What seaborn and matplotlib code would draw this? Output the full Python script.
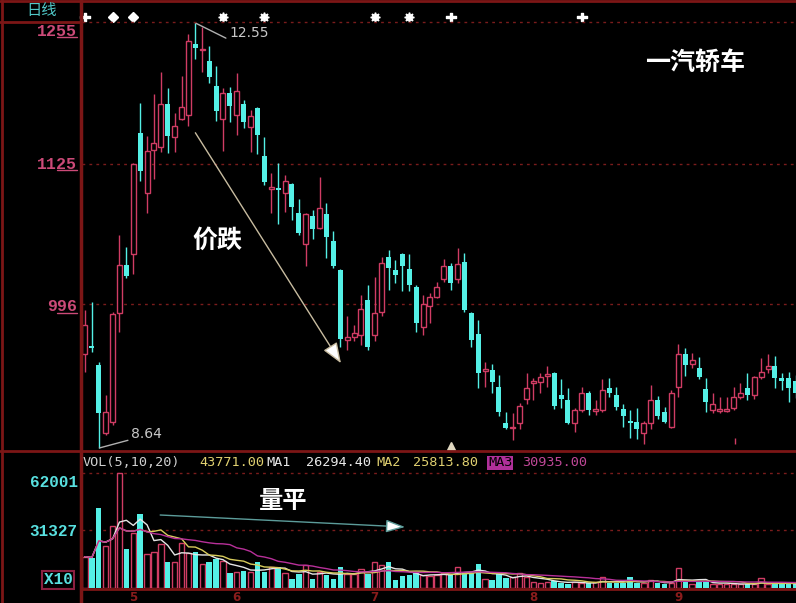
import matplotlib
matplotlib.use('Agg')
import matplotlib.pyplot as plt
from matplotlib.lines import Line2D
import numpy as np
import pandas as pd
import seaborn as sns

# daily candles (price in yuan)
opens = [9.50, 9.58, 9.40, 8.78, 8.88, 9.88, 10.32, 10.42, 11.54, 10.99,
         11.38, 11.41, 11.80, 11.50, 11.67, 11.70, 12.36, 12.30, 12.20, 11.97,
         11.67, 11.91, 11.70, 11.80, 11.59, 11.77, 11.33, 11.02, 11.03, 10.99,
         11.07, 10.80, 10.52, 10.77, 10.66, 10.79, 10.54, 10.28, 9.63, 9.66,
         9.68, 10.00, 9.68, 9.89, 10.40, 10.28, 10.42, 10.29, 10.12, 9.75,
         9.95, 10.03, 10.19, 10.31, 10.19, 10.35, 9.88, 9.69, 9.35, 9.36,
         9.20, 8.87, 8.82, 8.87, 9.09, 9.24, 9.25, 9.30, 9.33, 9.13,
         9.08, 8.87, 8.99, 9.15, 8.98, 8.99, 9.19, 9.13, 9.00, 8.89,
         8.88, 8.78, 8.87, 9.08, 8.97, 8.83, 9.20, 9.50, 9.41, 9.38,
         9.18, 8.99, 8.98, 8.98, 9.01, 9.11, 9.19, 9.13, 9.29, 9.37,
         9.39, 9.28, 9.28, 9.26]
highs = [9.91, 9.98, 9.43, 9.13, 9.89, 10.60, 10.49, 11.26, 11.81, 11.51,
         11.90, 12.10, 11.95, 11.72, 12.06, 12.45, 12.55, 12.51, 12.34, 12.15,
         11.95, 11.96, 12.09, 11.84, 11.75, 11.78, 11.50, 11.17, 11.26, 11.15,
         11.08, 10.93, 10.80, 10.83, 11.13, 10.89, 10.64, 10.29, 9.85, 9.77,
         10.05, 10.14, 10.21, 10.40, 10.46, 10.37, 10.43, 10.42, 10.14, 10.05,
         10.07, 10.17, 10.38, 10.34, 10.48, 10.43, 9.89, 9.82, 9.43, 9.41,
         9.31, 8.97, 8.96, 9.05, 9.33, 9.28, 9.33, 9.39, 9.34, 9.27,
         9.19, 9.01, 9.20, 9.16, 9.08, 9.27, 9.28, 9.20, 9.04, 8.99,
         9.01, 8.89, 9.22, 9.12, 9.02, 9.17, 9.60, 9.56, 9.51, 9.48,
         9.28, 9.15, 9.11, 9.11, 9.20, 9.24, 9.33, 9.30, 9.47, 9.50,
         9.49, 9.33, 9.34, 9.31]
lows = [9.34, 9.52, 8.64, 8.76, 8.85, 9.71, 10.20, 10.24, 11.10, 10.80,
        11.11, 11.36, 11.35, 11.36, 11.66, 11.60, 12.22, 12.10, 12.00, 11.65,
        11.37, 11.64, 11.52, 11.58, 11.36, 11.34, 11.06, 10.80, 10.70, 10.81,
        10.74, 10.60, 10.31, 10.56, 10.65, 10.39, 10.30, 9.57, 9.54, 9.62,
        9.59, 9.54, 9.62, 9.85, 10.09, 10.16, 10.08, 10.08, 9.71, 9.68,
        9.79, 10.02, 10.17, 10.09, 10.16, 9.89, 9.57, 9.19, 9.20, 9.15,
        8.93, 8.81, 8.71, 8.81, 9.04, 9.08, 9.15, 9.20, 9.00, 9.01,
        8.86, 8.79, 8.97, 8.94, 8.94, 8.97, 9.11, 8.99, 8.83, 8.73,
        8.72, 8.68, 8.81, 8.91, 8.87, 8.82, 9.11, 9.30, 9.38, 9.27,
        8.97, 8.96, 8.96, 8.97, 8.99, 9.09, 9.08, 9.09, 9.27, 9.33,
        9.19, 9.17, 9.06, 9.10]
closes = [9.77, 9.56, 8.96, 8.97, 9.87, 10.32, 10.22, 11.25, 11.19, 11.37,
          11.45, 11.80, 11.51, 11.60, 11.78, 12.38, 12.32, 12.30, 12.05, 11.74,
          11.91, 11.79, 11.92, 11.64, 11.69, 11.52, 11.09, 11.04, 11.01, 11.10,
          10.86, 10.62, 10.79, 10.65, 10.85, 10.58, 10.31, 9.64, 9.66, 9.70,
          9.92, 9.57, 9.88, 10.34, 10.30, 10.23, 10.31, 10.14, 9.79, 9.96,
          10.03, 10.12, 10.31, 10.16, 10.33, 9.91, 9.63, 9.33, 9.37, 9.25,
          8.97, 8.82, 8.82, 9.03, 9.19, 9.26, 9.29, 9.32, 9.03, 9.09,
          8.87, 8.99, 9.15, 8.99, 9.00, 9.17, 9.15, 9.02, 8.93, 8.87,
          8.81, 8.87, 9.08, 8.93, 8.88, 9.15, 9.50, 9.40, 9.45, 9.29,
          9.06, 9.04, 9.00, 9.00, 9.11, 9.15, 9.13, 9.29, 9.34, 9.39,
          9.28, 9.26, 9.19, 9.15]
volumes = [16870, 16000, 43300, 22800, 33600, 62001, 20850, 29500, 39700, 18150,
           19600, 23550, 13850, 13850, 24100, 18700, 19600, 12750, 13850, 15630,
           14550, 7900, 8450, 9160, 8450, 13850, 8800, 11500, 11500, 7900,
           4850, 7370, 12400, 4850, 8800, 7000, 4850, 11500, 7370, 7370,
           10250, 7370, 13850, 12400, 13850, 4300, 6470, 7000, 8250, 7000,
           6470, 7000, 7900, 7000, 11150, 8800, 8250, 12940, 4670, 4310,
           7550, 5210, 5750, 8250, 5750, 3400, 2870, 3400, 3950, 2870,
           2160, 3400, 2500, 2500, 3000, 6100, 2870, 2870, 2870, 6100,
           2500, 2500, 4300, 2870, 2160, 2870, 10600, 3400, 2160, 3400,
           3400, 2160, 2160, 2160, 2160, 2160, 2160, 2160, 5200, 2160,
           2160, 2160, 2160, 2500]

month_idx = [7, 22, 42, 65, 86]
month_labels = ['5', '6', '7', '8', '9']

price_ticks = [12.55, 11.25, 9.96]
price_tick_labels = ['1255', '1125', '996']
vol_ticks = [62001, 31327]
vol_tick_labels = ['62001', '31327']

diamond_idx = [4, 7]
star_idx = [20, 26, 42, 47]
div_idx = [0, 53, 72]

sns.set_style('dark', {'axes.facecolor': 'black', 'figure.facecolor': 'black', 'axes.grid': False})
plt.rcParams['font.family'] = ['Noto Sans CJK SC', 'DejaVu Sans']

RED = '#d03c64'
CYAN = '#54f0e6'
FRAME = '#7c1616'
GRID = '#7a1c1c'
PINK = '#cc4a78'

W, H = 796, 603


def fx(px):
    return px / W


def fy(py):
    return 1 - py / H


fig = plt.figure(figsize=(W / 100, H / 100), dpi=100)
fig.patch.set_facecolor('black')
ax = fig.add_axes([fx(82), fy(451), fx(796) - fx(82), fy(22) - fy(451)])
axv = fig.add_axes([fx(82), fy(588), fx(796) - fx(82), fy(452) - fy(588)])

df = pd.DataFrame(dict(open=opens, high=highs, low=lows, close=closes, vol=volumes))
df['i'] = np.arange(len(df))
up = (df['close'] >= df['open']).values
colors = np.where(up, RED, CYAN)

# candles
ax.vlines(df['i'], df['low'], df['high'], colors=colors, lw=1, zorder=1)
body_h = (df['close'] - df['open']).abs().clip(lower=0.012)
body_b = df[['open', 'close']].min(axis=1)
ax.bar(df['i'][up], body_h[up], bottom=body_b[up], width=0.72,
       facecolor='black', edgecolor=RED, lw=1, zorder=2)
ax.bar(df['i'][~up], body_h[~up], bottom=body_b[~up], width=0.72,
       color=CYAN, lw=0, zorder=2)

# volume bars + moving averages
axv.bar(df['i'][up], df['vol'][up], width=0.78, facecolor='black', edgecolor=RED, lw=1)
axv.bar(df['i'][~up], df['vol'][~up], width=0.78, color=CYAN, lw=0)
for n, c in [(5, '#e6e6e6'), (10, '#d8cc5c'), (20, '#b8309a')]:
    ma = df['vol'].rolling(n, min_periods=1).mean()
    sns.lineplot(x=df['i'], y=ma, ax=axv, color=c, lw=1)

for a in (ax, axv):
    a.set_facecolor('black')
    a.set_xlim(-0.43, 103.05)
    a.set_yticks([])
    a.set_xlabel('')
    a.set_ylabel('')
    for s in a.spines.values():
        s.set_visible(False)
ax.set_xticks([])
ax.set_ylim(8.612, 12.559)
axv.set_ylim(0, 73318)

dots = (0, (2, 3))
for v in price_ticks[1:]:
    ax.axhline(v, color=GRID, ls=dots, lw=1, zorder=0)
for v in vol_ticks:
    axv.axhline(v, color=GRID, ls=dots, lw=1, zorder=0)

axv.set_xticks(month_idx)
axv.set_xticklabels(month_labels, fontsize=8.5, fontweight='bold', family='DejaVu Sans')
axv.tick_params(axis='x', colors='#8a1c1c', length=2, width=1, pad=0)

# axis labels on the left column
for v, t, d in zip(price_ticks, price_tick_labels, [-6, 0, -1.5]):
    ax.annotate(t, xy=(0, v), xycoords=('axes fraction', 'data'), xytext=(-3.6, d),
                textcoords='offset points', ha='right', va='center', color=PINK,
                fontsize=12, fontweight='bold', family='Liberation Mono')
for yy in [37, 170, 313]:
    fig.add_artist(Line2D([fx(57), fx(77)], [fy(yy), fy(yy)], color=PINK, lw=1))
for v, t, d in zip(vol_ticks, vol_tick_labels, [-7, -1.5]):
    axv.annotate(t, xy=(0, v), xycoords=('axes fraction', 'data'), xytext=(-3, d),
                 textcoords='offset points', ha='right', va='center', color='#58e0e0',
                 fontsize=11.5, fontweight='bold', family='Liberation Mono')
fig.text(fx(58), fy(580), 'X10', color='#58e0e0', fontsize=11.5, fontweight='bold',
         family='Liberation Mono', ha='center', va='center',
         bbox=dict(boxstyle='square,pad=0.12', fc='black', ec='#8a2040', lw=1.5))
fig.text(fx(42), fy(10), '日线', color='#50c8c8', fontsize=11, ha='center', va='center')

# frame lines
frame = [((2, 0), (2, 603), 2), ((81, 0), (81, 603), 2.5), ((0, 1), (796, 1), 2),
         ((0, 22), (81, 22), 2), ((0, 450.5), (796, 450.5), 2), ((81, 588.5), (796, 588.5), 2)]
for (x0, y0), (x1, y1), w in frame:
    fig.add_artist(Line2D([fx(x0), fx(x1)], [fy(y0), fy(y1)], color=FRAME, lw=w))
fig.add_artist(Line2D([fx(82), fx(796)], [fy(22), fy(22)], color=GRID, lw=1, ls=dots))

# signal markers in the top strip
ax.plot(diamond_idx, [12.605] * len(diamond_idx), 'D', color='white', ms=5, clip_on=False)
ax.plot(star_idx, [12.605] * len(star_idx), marker=(8, 1, 0), ls='none', color='white',
        ms=7, clip_on=False)
ax.plot(div_idx, [12.605] * len(div_idx), marker='$\\div$', ls='none', color='white',
        ms=7, clip_on=False)
ax.plot([53], [8.66], '^', color='#e0d8c0', ms=6)
ax.plot([94.2], [8.705], '|', color=RED, ms=4)

# extreme labels
ax.annotate('12.55', xy=(16, 12.55), xytext=(20.9, 12.46), ha='left', va='center',
            color='#c8c8c8', fontsize=10, family='DejaVu Sans',
            arrowprops=dict(arrowstyle='-', color='#b0b0b0', lw=1, relpos=(0, 0),
                            shrinkA=0, shrinkB=0))
ax.annotate('8.64', xy=(2.1, 8.64), xytext=(6.7, 8.77), ha='left', va='center',
            color='#c8c8c8', fontsize=10, family='DejaVu Sans',
            arrowprops=dict(arrowstyle='-', color='#b0b0b0', lw=1, relpos=(0, 0.1),
                            shrinkA=0, shrinkB=0))

# trend arrows and notes
ax.annotate('', xy=(37.1, 9.42), xytext=(16.0, 11.54),
            arrowprops=dict(arrowstyle='-|>,head_length=0.9,head_width=0.35', mutation_scale=14,
                            fc='white', ec='#c8bca0', lw=1, shrinkA=0, shrinkB=0))
axv.annotate('', xy=(46.4, 32890), xytext=(10.9, 39350),
             arrowprops=dict(arrowstyle='-|>,head_length=0.9,head_width=0.3', mutation_scale=13,
                             fc='white', ec='#5c9c9a', lw=1, shrinkA=0, shrinkB=0))
fig.text(fx(695), fy(63), '一汽轿车', color='white', fontsize=18, fontweight='bold',
         ha='center', va='center')
fig.text(fx(217), fy(241), '价跌', color='white', fontsize=18, fontweight='bold',
         ha='center', va='center')
fig.text(fx(283), fy(501), '量平', color='white', fontsize=17.5, fontweight='bold',
         ha='center', va='center')

# volume header
header = [('VOL(5,10,20)', 83, '#d0d0d0'), ('43771.00', 199, '#e0d070'), ('MA1', 266, '#e8e8e8'),
          ('26294.40', 306, '#e8e8e8'), ('MA2', 376, '#e0d070'), ('25813.80', 413, '#e0d070'),
          ('30935.00', 522, '#c04898')]
for t, x, c in header:
    fig.text(fx(x), fy(463), t, color=c, fontsize=9.7, family='DejaVu Sans Mono',
             ha='left', va='center')
fig.text(fx(488), fy(463), 'MA3', color='black', fontsize=9.7, family='DejaVu Sans Mono',
         ha='left', va='center', bbox=dict(boxstyle='square,pad=0.05', fc='#b0309a', ec='none'))

fig.savefig('out.png', dpi=100, facecolor='black')
